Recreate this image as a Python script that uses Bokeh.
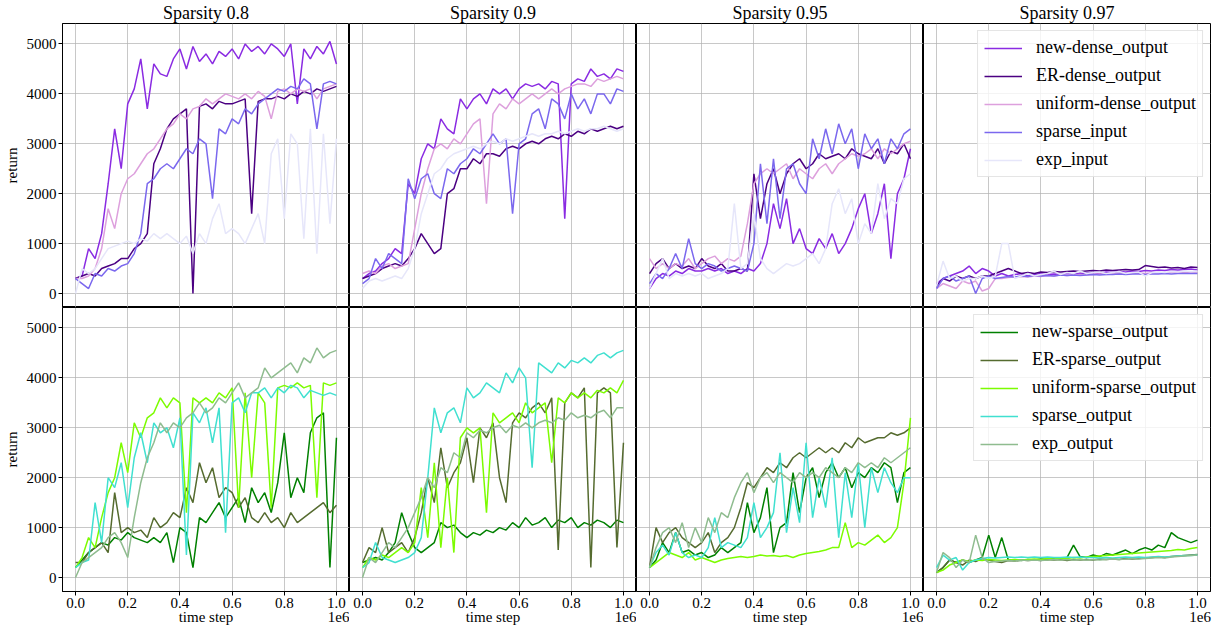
from bokeh.plotting import figure
from bokeh.layouts import gridplot
from bokeh.models import Range1d, FixedTicker, LinearAxis
from bokeh.embed import file_html
from bokeh.resources import INLINE

# time steps of the logged evaluations
steps = list(range(0, 1000001, 25000))

sparsities = ["0.8", "0.9", "0.95", "0.97"]
dense_names = ["new-dense_output", "ER-dense_output", "uniform-dense_output", "sparse_input", "exp_input"]
sparse_names = ["new-sparse_output", "ER-sparse_output", "uniform-sparse_output", "sparse_output", "exp_output"]
dense_colors = ["#8A2BE2", "#4B0082", "#DDA0DD", "#7B68EE", "#E6E6FA"]
sparse_colors = ["#008000", "#556B2F", "#7CFC00", "#40E0D0", "#8FBC8F"]
x_ticks = [0, 200000, 400000, 600000, 800000, 1000000]
x_tick_labels = ["0.0", "0.2", "0.4", "0.6", "0.8", "1.0"]
y_ticks = [0, 1000, 2000, 3000, 4000, 5000]

# ---------------- top row (dense outputs) ----------------
new_dense_08 = [300,350,900,700,1200,2200,3300,2500,3800,4100,
                4700,3700,4600,4400,4350,4700,4900,4500,4950,4650,
                4800,4600,4850,4750,4900,4700,5000,4850,4950,4800,
                5000,4900,4750,5000,3800,4900,4700,4950,4800,5050,4600]
er_dense_08 = [300,350,400,350,500,550,600,700,700,900,
               1000,1200,2600,2900,3300,3500,3600,3700,0,3750,
               3800,3700,3850,3800,3800,3850,3900,1600,3850,3900,
               3900,3950,3900,4000,3950,4050,4000,4100,4050,4100,4150]
uni_dense_08 = [300,300,350,500,900,1700,1300,2000,2300,2400,
                2600,2800,2900,3100,3300,3400,3600,3500,3700,3750,
                3900,3800,3900,4000,3950,3900,4000,3900,4050,3950,
                3500,4050,4100,4000,4100,4050,4100,3900,4100,4150,4200]
sp_in_08 = [300,200,100,400,350,500,450,550,600,800,
            1200,2200,2300,2500,2600,2500,2700,2900,2800,3100,
            3000,1900,3300,3200,3500,3400,3700,3600,3800,3900,
            4000,4100,4050,4150,4100,4300,4200,3300,4200,4250,4200]
exp_in_08 = [0,500,400,500,700,900,950,1000,1050,1000,
             1100,1050,1200,1100,1200,1100,1000,1150,800,1200,
             1000,1500,1800,1200,1300,1200,1000,1300,1600,1000,
             2800,3100,1500,3200,3000,1100,3300,800,3200,1400,3100]

new_dense_09 = [300,400,450,600,700,900,800,2200,2000,2700,
                3000,2900,3500,3300,3200,3900,3700,3900,4000,3800,
                4100,4000,4100,3900,4100,4200,4150,4200,4100,4250,
                4200,1500,4200,4300,4250,4500,4350,4400,4300,4500,4450]
er_dense_09 = [300,350,400,500,550,600,550,700,900,1200,
               1000,800,900,2000,2100,2500,2500,2700,2600,2800,
               2800,2750,2900,2950,2900,3000,3050,3000,3100,3150,
               3100,3200,3150,3250,3200,3300,3250,3300,3350,3300,3350]
uni_dense_09 = [400,450,400,550,600,500,550,600,1300,2000,
                2500,2900,3000,2900,3100,3000,3200,3400,3500,1800,
                3600,3800,3700,3900,3800,3900,4000,3900,4000,4100,
                4000,4100,4150,4200,4200,4150,4300,4250,4300,4350,4300]
sp_in_09 = [200,300,700,500,800,700,600,2300,1900,2300,
            2400,2000,1900,2500,2400,2600,2700,2900,2800,3000,
            3200,3000,3100,1600,3000,3100,3600,3700,3300,3900,
            3800,3500,4000,3700,3900,3600,4000,4000,3800,4100,4050]
exp_in_09 = [100,250,300,250,300,350,300,500,900,1600,
             2000,2400,2500,2700,2800,2850,2900,2950,2900,3000,
             3050,3000,3100,3050,3100,3150,3200,3150,3200,3200,
             3250,3200,3250,3300,3250,3300,3300,3350,3300,3250,3300]

new_dense_095 = [100,300,400,350,450,400,500,450,450,500,
                 450,500,400,450,400,500,450,600,1000,1800,
                 1300,1900,1000,1300,900,800,1100,900,1200,800,
                 1000,1300,1700,2000,1200,1600,2200,700,2000,2300,2900]
er_dense_095 = [400,600,700,500,600,500,550,500,700,550,
                500,600,450,450,500,450,2400,1500,2200,2500,
                2000,2400,2600,2700,2500,2600,2800,2700,2750,2800,
                2700,2900,2800,2750,2700,2900,2600,2850,2800,3000,2700]
uni_dense_095 = [700,500,600,500,600,550,700,500,600,700,
                 750,600,700,650,750,1400,2200,2400,2500,2400,
                 2500,2600,2300,2500,2400,2300,2500,2600,2400,2600,
                 2700,2800,2750,2800,2900,2700,2900,2800,2900,3000,3050]
sp_in_095 = [200,400,300,500,800,500,1100,600,500,600,
             550,450,500,550,500,450,1000,2600,1400,2700,
             1500,2500,2600,2200,2000,3100,2700,3300,2800,3400,
             3000,3300,2500,3200,2900,3100,2600,3100,2900,3200,3300]
exp_in_095 = [100,400,700,300,400,350,400,350,400,300,
              350,400,500,1800,500,600,1600,700,500,400,
              500,600,550,600,700,800,600,900,1800,2100,
              1600,1900,1000,1400,1200,2200,1500,1900,1800,2300,2400]

new_dense_097 = [200,300,350,400,450,550,400,500,450,350,
                 400,350,380,400,350,380,400,380,390,380,
                 400,390,400,410,420,400,430,420,440,430,
                 450,440,460,450,470,460,480,470,480,490,470]
er_dense_097 = [150,300,250,350,300,350,300,350,350,400,
                450,500,450,400,420,400,430,420,440,430,
                440,450,440,450,460,450,470,460,470,480,
                470,480,560,540,520,530,510,520,500,530,520]
uni_dense_097 = [100,200,150,100,250,200,250,50,100,300,
                 300,320,330,340,330,350,340,360,350,370,
                 360,370,380,370,380,390,380,390,400,390,
                 400,410,400,410,420,410,420,430,420,430,430]
sp_in_097 = [100,300,350,250,300,350,0,300,350,300,
             320,340,330,350,340,360,350,360,350,370,
             360,370,360,370,380,370,380,380,390,380,
             390,390,380,390,390,400,390,400,400,400,400]
exp_in_097 = [150,650,300,350,250,300,300,350,300,350,
              1000,1000,300,350,400,350,380,400,450,380,
              420,400,450,400,420,430,400,420,440,400,
              420,430,350,420,430,420,440,430,450,440,450]

# ---------------- bottom row (sparse outputs) ----------------
new_sparse_08 = [200,350,500,600,700,650,800,750,900,800,
                 750,700,800,700,900,300,1000,900,200,1200,
                 1100,1300,1500,1200,1400,1600,1100,1800,1500,1700,
                 1300,1900,2900,1600,2000,1700,2900,3200,3300,200,2800]
er_sparse_08 = [300,300,500,600,700,500,1700,900,1000,900,
                950,800,1200,1000,1100,1300,1200,1800,1500,2300,
                1900,2200,1600,1800,1700,1400,1600,1200,1100,1300,
                1100,1200,1000,1300,1100,1200,1300,1400,1500,1300,1450]
uni_sparse_08 = [200,400,800,600,1200,1700,2000,2700,2100,3100,
                 2800,3200,3300,3600,3400,3600,3500,1300,3600,3500,
                 3600,3500,3700,3600,3800,1400,3700,2000,3700,3500,
                 1400,3800,3850,3800,3900,3800,3850,1600,3900,3850,3900]
sp_out_08 = [200,300,350,1500,700,2000,1800,2300,1400,2400,
             2900,2300,3100,2900,3000,2600,3200,450,3300,3100,
             3400,2700,3400,900,3500,3600,3300,3700,3700,3800,
             3600,3800,3700,3850,3800,3600,3750,3700,3650,3700,3650]
exp_out_08 = [0,300,400,500,600,800,900,700,400,1200,
              1900,2400,2700,3100,2900,3100,3000,3200,3300,3500,
              3300,3400,3600,3500,3700,3900,3600,3700,3800,4200,
              4000,4100,4200,4300,4100,4400,4300,4600,4400,4500,4550]

new_sparse_09 = [300,350,400,350,500,700,1300,900,600,500,
                 600,700,1100,1000,1050,900,800,900,850,950,
                 900,1000,950,1100,1000,1200,1050,1100,1200,1000,
                 1150,1100,1200,1000,1100,1050,1150,1100,1000,1150,1100]
er_sparse_09 = [300,600,500,1000,500,600,700,500,800,1300,
                2000,1500,2600,1800,2100,2300,2800,1900,3000,2800,
                3100,2000,1500,3100,3300,3200,3400,3500,3300,3600,
                550,3500,3700,3600,3800,200,3700,3800,3700,600,2700]
uni_sparse_09 = [200,400,350,450,400,500,600,500,700,1800,
                 800,2300,600,2000,500,2800,3000,2900,3000,1300,
                 3300,3100,3200,3300,3100,3500,3300,3400,3500,2300,
                 3600,3500,3700,3600,3700,3600,3750,3700,3800,3700,3950]
sp_out_09 = [200,300,700,400,350,300,350,400,500,800,
             2000,3400,2900,3300,3400,3100,3800,3600,3700,3900,
             3800,3700,4100,3900,4200,4000,2200,4300,4200,4100,
             4300,4200,4350,4300,4400,4300,4450,4500,4400,4500,4550]
exp_out_09 = [0,400,300,500,700,600,800,1000,1300,1600,
              2000,1800,2200,2100,2500,2400,2900,2800,2950,2900,
              3000,3050,2900,3050,3000,3100,3000,3100,3150,3100,
              3200,3150,3300,3200,3250,3200,3300,3350,3200,3400,3400]

new_sparse_095 = [200,350,700,500,900,500,550,450,500,400,
                  450,600,500,600,700,1500,900,1200,1800,500,
                  1000,1100,2100,1300,2000,2200,1600,2100,2300,2000,
                  2200,1800,2100,2000,2200,2100,2300,2200,1500,2100,2200]
er_sparse_095 = [200,1000,700,900,1000,800,700,600,700,900,
                 500,700,800,1000,1400,1900,1800,2000,2200,2100,
                 2300,2200,2400,2500,2400,2500,2600,2500,2600,2500,
                 2700,2600,2800,2700,2750,2800,2800,2900,2850,2900,3000]
uni_sparse_095 = [200,300,400,500,450,400,500,350,400,350,
                  300,350,380,400,420,400,420,450,430,440,
                  420,440,400,450,480,500,520,550,600,600,
                  1100,600,700,650,750,850,700,800,1000,1900,3200]
sp_out_095 = [200,500,650,450,900,500,400,450,400,600,
              1200,600,700,650,600,800,1500,800,1000,1300,
              2500,900,1800,1100,2700,1200,2000,1400,2400,800,
              2100,1200,2300,1000,2200,1700,2200,1900,1700,2000,2000]
exp_out_095 = [200,600,900,1000,700,1100,600,1000,700,1200,
               900,1300,1200,1600,1900,2100,1700,2000,2100,1900,
               2100,2000,1900,2100,2000,2100,2000,2200,2100,2000,
               2200,2100,2300,2200,2300,2200,2400,2300,2400,2500,2600]

new_sparse_097 = [100,200,350,300,350,300,350,400,850,400,
                  800,350,350,340,360,350,370,360,380,370,
                  400,650,420,400,450,420,480,450,500,550,
                  480,550,600,550,650,600,900,800,750,700,750]
er_sparse_097 = [100,200,350,300,250,350,320,380,350,320,
                 300,340,330,350,340,350,340,360,350,360,
                 340,360,350,360,350,370,360,370,360,380,
                 370,380,390,400,410,400,420,430,440,450,460]
uni_sparse_097 = [100,150,250,300,350,320,350,340,360,350,
                  340,350,360,350,360,370,360,380,370,390,
                  380,400,390,410,420,430,440,450,460,470,
                  480,490,500,510,520,530,540,560,550,580,600]
sp_out_097 = [200,450,350,400,150,300,350,380,400,390,
              400,410,400,410,400,410,400,410,400,400,
              410,400,410,400,400,390,400,390,400,410,
              400,410,400,410,420,410,420,430,440,440,450]
exp_out_097 = [100,500,400,200,350,300,850,400,300,320,
               330,340,330,350,340,350,340,350,360,350,
               360,350,360,350,360,350,360,370,360,370,
               380,370,380,390,400,390,410,420,430,440,450]

top_data = [
    [new_dense_08, er_dense_08, uni_dense_08, sp_in_08, exp_in_08],
    [new_dense_09, er_dense_09, uni_dense_09, sp_in_09, exp_in_09],
    [new_dense_095, er_dense_095, uni_dense_095, sp_in_095, exp_in_095],
    [new_dense_097, er_dense_097, uni_dense_097, sp_in_097, exp_in_097],
]
bottom_data = [
    [new_sparse_08, er_sparse_08, uni_sparse_08, sp_out_08, exp_out_08],
    [new_sparse_09, er_sparse_09, uni_sparse_09, sp_out_09, exp_out_09],
    [new_sparse_095, er_sparse_095, uni_sparse_095, sp_out_095, exp_out_095],
    [new_sparse_097, er_sparse_097, uni_sparse_097, sp_out_097, exp_out_097],
]

FONT = "Liberation Serif"
x_range = Range1d(-50000, 1050000)
y_range = Range1d(-280, 5410)
FW, FH = 287, 284


def style_axis(ax):
    ax.minor_tick_line_color = None
    ax.major_tick_out = 4
    ax.major_tick_in = 0
    ax.major_label_standoff = 2
    ax.axis_label_standoff = 4
    ax.major_label_text_font = FONT
    ax.major_label_text_font_size = "15px"
    ax.major_label_text_color = "black"
    ax.axis_label_text_font = FONT
    ax.axis_label_text_font_size = "15px"
    ax.axis_label_text_font_style = "normal"
    ax.axis_label_text_color = "black"
    ax.axis_line_color = "black"
    ax.major_tick_line_color = "black"


def make_panel(row, col):
    left = col == 0
    right = col == 3
    p = figure(
        output_backend="svg", toolbar_location=None,
        frame_width=FW, frame_height=FH,
        x_range=x_range, y_range=y_range,
        x_axis_location="below" if row == 1 else None,
        y_axis_location="left" if left else None,
        min_border_left=58 if left else 0,
        min_border_right=2 if right else 0,
        min_border_top=0, min_border_bottom=0,
        background_fill_color="white", border_fill_color="white",
        title="Sparsity " + sparsities[col] if row == 0 else None,
    )
    p.outline_line_color = "black"
    p.outline_line_alpha = 1
    p.outline_line_width = 1
    p.xgrid.ticker = FixedTicker(ticks=x_ticks)
    p.ygrid.ticker = FixedTicker(ticks=y_ticks)
    p.grid.grid_line_color = "#b0b0b0"
    p.grid.grid_line_alpha = 0.7
    p.grid.grid_line_width = 1
    if row == 0:
        p.title.align = "center"
        p.title.text_font = FONT
        p.title.text_font_size = "18px"
        p.title.text_font_style = "normal"
        p.title.text_color = "black"
        p.title.standoff = 1
    if row == 1:
        ax = p.xaxis[0]
        ax.ticker = FixedTicker(ticks=x_ticks)
        ax.major_label_overrides = {t: s for t, s in zip(x_ticks, x_tick_labels)}
        style_axis(ax)
        # second row of x texts: axis title and the offset text "1e6"
        ax2 = LinearAxis(ticker=FixedTicker(ticks=[500000, 1010000]))
        ax2.major_label_overrides = {500000: "time step", 1010000: "1e6"}
        style_axis(ax2)
        ax2.axis_line_color = None
        ax2.major_tick_line_color = None
        ax2.major_tick_out = 0
        ax2.major_label_standoff = -2
        p.add_layout(ax2, "below")
    if left:
        ax = p.yaxis[0]
        ax.ticker = FixedTicker(ticks=y_ticks)
        ax.axis_label = "return"
        style_axis(ax)

    names = dense_names if row == 0 else sparse_names
    colors = dense_colors if row == 0 else sparse_colors
    series = (top_data if row == 0 else bottom_data)[col]
    for name, color, vals in zip(names, colors, series):
        if right:
            p.line(steps, vals, line_color=color, line_width=1.5, legend_label=name)
        else:
            p.line(steps, vals, line_color=color, line_width=1.5)
    if right:
        lg = p.legend[0]
        lg.location = "top_right"
        lg.margin = 7
        lg.padding = 6
        lg.spacing = 7
        lg.glyph_width = 38
        lg.glyph_height = 20
        lg.label_height = 20
        lg.label_standoff = 14
        lg.label_text_font = FONT
        lg.label_text_font_size = "18px"
        lg.label_text_color = "black"
        lg.border_line_color = "#cccccc"
        lg.border_line_width = 1
        lg.background_fill_color = "white"
        lg.background_fill_alpha = 0.8
    return p


grid = [[make_panel(r, c) for c in range(4)] for r in range(2)]
layout = gridplot(grid, toolbar_location=None)

open("out.html", "w").write(file_html(layout, INLINE))
